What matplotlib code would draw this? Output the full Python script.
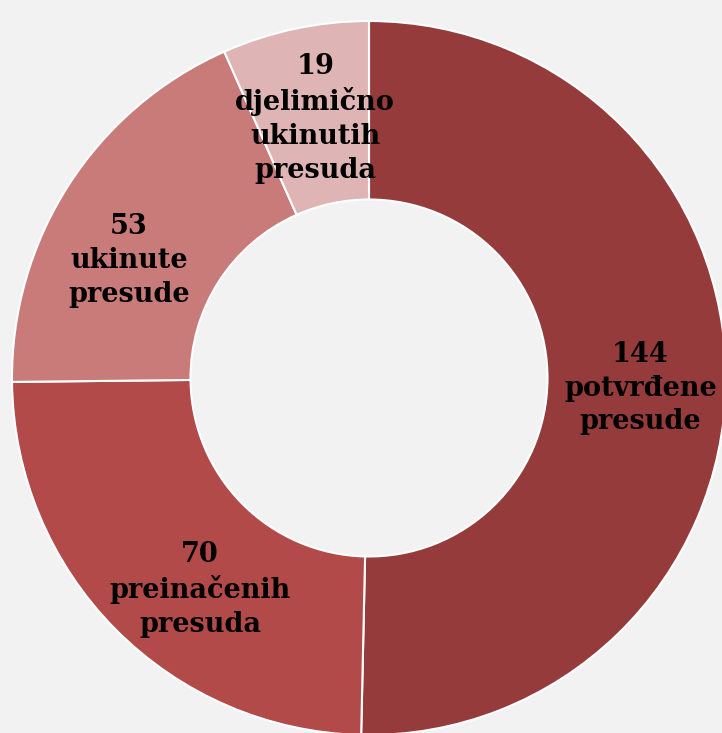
import matplotlib.pyplot as plt
import numpy as np

# podaci
counts = [144, 70, 53, 19]
labels = ["potvrđene\npresude", "preinačenih\npresuda", "ukinute\npresude",
          "djelimično\nukinutih\npresuda"]
colors = ["#953B3B", "#B14A48", "#C97B7A", "#DFB4B4"]
# mali pomaci oznaka (kao u Excelu)
nudges = [(0.01, -0.02), (0.06, -0.065), (-0.042, -0.076), (0.005, -0.006)]

fig = plt.figure(figsize=(7.22, 7.33), dpi=100, facecolor="#F2F2F2")
ax = fig.add_axes([0, 0, 1, 1])
ax.set_facecolor("#F2F2F2")

wedges, _ = ax.pie(counts, colors=colors, startangle=90, counterclock=False,
                   radius=1.0, wedgeprops=dict(width=0.5, edgecolor="white", linewidth=1.5))

for w, n, lab, (dx, dy) in zip(wedges, counts, labels, nudges):
    ang = np.deg2rad((w.theta1 + w.theta2) / 2)
    x, y = 0.75 * np.cos(ang), 0.75 * np.sin(ang)
    ax.text(x + dx, y + dy, f"{n}\n{lab}", ha="center", va="center", fontsize=19.5,
            fontfamily="DejaVu Serif", fontweight="bold",
            linespacing=1.32, color="black")

# sredina kruga ~ (369, 378) px, radijus ~357 px
ax.set_xlim(-369 / 357, (722 - 369) / 357)
ax.set_ylim(-(733 - 378) / 357, 378 / 357)
ax.axis("off")

fig.savefig("out.png", dpi=100, facecolor=fig.get_facecolor())
